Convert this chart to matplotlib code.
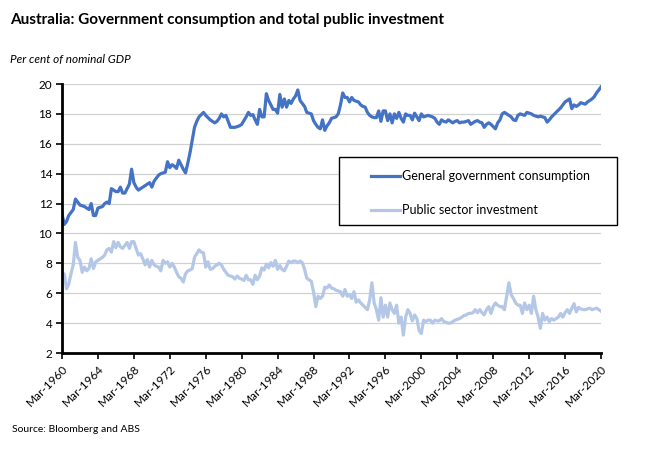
import matplotlib
matplotlib.use("Agg")
import matplotlib.pyplot as plt
from matplotlib.patches import Rectangle

plt.rcParams['font.family'] = ['Lato', 'DejaVu Sans']

# quarterly, Mar-1960 .. Mar-2020 (per cent of nominal GDP)
consumption = [
    11.3, 10.6, 10.8, 11.2,  11.4, 11.6, 12.3, 12.1,  11.9, 11.85, 11.8, 11.7,
    11.6, 12.0, 11.2, 11.2,  11.7, 11.75, 11.8, 12.0,  12.1, 12.0, 13.0, 12.9,
    12.8, 12.8, 13.1, 12.7,  12.7, 13.0, 13.3, 14.3,  13.4, 13.1, 12.9, 13.0,
    13.1, 13.2, 13.3, 13.4,  13.1, 13.5, 13.7, 13.9,  14.0, 14.05, 14.1, 14.8,
    14.4, 14.6, 14.5, 14.35,  14.9, 14.6, 14.3, 14.05,  14.7, 15.4, 16.25, 17.1,
    17.5, 17.8, 17.95, 18.1,  17.9, 17.75, 17.6, 17.5,  17.4, 17.5, 17.7, 18.0,
    17.8, 17.9, 17.5, 17.1,  17.1, 17.1, 17.15, 17.2,  17.3, 17.55, 17.8, 18.1,
    17.9, 17.95, 17.6, 17.3,  18.3, 17.8, 17.8, 19.35,  18.9, 18.6, 18.3, 18.3,
    18.05, 19.3, 18.45, 19.0,  18.45, 18.9, 18.7, 19.0,  19.2, 19.6, 18.9, 18.7,
    18.5, 18.1, 18.05, 18.0,  17.55, 17.3, 17.1, 17.0,  17.6, 16.9, 17.2, 17.4,
    17.7, 17.75, 17.8, 18.0,  18.6, 19.4, 19.1, 19.1,  18.8, 19.1, 18.9, 18.85,
    18.8, 18.6, 18.5, 18.45,  18.1, 17.9, 17.8, 17.75,  17.75, 18.2, 17.5, 18.2,
    18.2, 17.55, 18.0, 17.4,  18.0, 17.7, 18.1, 17.7,  17.45, 18.0, 17.9, 17.9,
    17.6, 18.05, 17.8, 17.55,  18.0, 17.8, 17.85, 17.9,  17.85, 17.8, 17.7, 17.45,
    17.3, 17.6, 17.5, 17.45,  17.6, 17.5, 17.4, 17.5,  17.55, 17.4, 17.45, 17.45,
    17.5, 17.55, 17.3, 17.4,  17.5, 17.55, 17.45, 17.4,  17.1, 17.3, 17.4, 17.3,
    17.15, 17.0, 17.4, 17.6,  18.0, 18.1, 18.0, 17.9,  17.8, 17.6, 17.55, 17.9,
    18.0, 17.95, 17.9, 18.1,  18.05, 18.0, 17.9, 17.85,  17.8, 17.85, 17.8, 17.75,
    17.45, 17.6, 17.8, 17.95,  18.1, 18.25, 18.4, 18.6,  18.8, 18.9, 19.0, 18.35,
    18.6, 18.5, 18.6, 18.75,  18.7, 18.65, 18.8, 18.9,  19.0, 19.15, 19.4, 19.6,
    19.8,
]

investment = [
    7.3, 7.3, 6.3, 6.6,  7.3, 7.9, 9.4, 8.4,  8.2, 7.4, 7.75, 7.5,
    7.65, 8.3, 7.65, 8.1,  8.2, 8.3, 8.4, 8.55,  8.9, 9.0, 8.75, 9.45,
    9.05, 9.4, 9.1, 9.0,  9.2, 9.4, 9.0, 9.45,  9.45, 9.0, 8.55, 8.65,
    8.3, 7.9, 8.25, 7.75,  8.2, 7.9, 7.8, 7.75,  7.5, 8.2, 8.0, 8.1,
    7.75, 8.0, 7.75, 7.4,  7.1, 7.0, 6.75, 7.3,  7.5, 7.55, 7.65, 8.4,
    8.65, 8.9, 8.75, 8.7,  7.75, 8.1, 7.6, 7.65,  7.8, 7.9, 8.0, 7.9,
    7.6, 7.4, 7.2, 7.15,  7.1, 6.95, 7.15, 7.0,  6.95, 6.85, 7.2, 6.9,
    6.9, 6.6, 7.2, 6.9,  7.15, 7.7, 7.55, 7.95,  7.7, 8.05, 7.8, 8.2,
    7.6, 7.85, 7.6, 7.5,  7.8, 8.15, 8.05, 8.15,  8.15, 8.05, 8.15, 8.05,
    7.6, 7.0, 6.9, 6.8,  6.1, 5.1, 5.8, 5.65,  5.8, 6.4, 6.35, 6.55,
    6.35, 6.3, 6.2, 6.15,  6.1, 5.8, 6.25, 5.8,  5.9, 5.65, 6.1, 5.4,
    5.55, 5.35, 5.2, 5.05,  4.9, 5.55, 6.7, 5.35,  4.9, 4.2, 5.7, 4.4,
    5.2, 4.4, 5.35, 4.9,  4.65, 5.2, 4.0, 4.4,  3.2, 4.4, 4.9, 4.65,
    4.15, 4.55, 4.3, 3.5,  3.3, 4.2, 4.1, 4.2,  4.2, 4.0, 4.2, 4.15,
    4.15, 4.3, 4.1, 4.05,  4.0, 4.0, 4.1, 4.2,  4.25, 4.3, 4.4, 4.5,
    4.55, 4.65, 4.65, 4.7,  4.9, 4.7, 4.9, 4.7,  4.55, 4.9, 5.1, 4.65,
    5.1, 5.35, 5.2, 5.1,  5.1, 4.9, 5.8, 6.7,  5.9, 5.65, 5.35, 5.2,
    5.2, 4.65, 5.35, 4.9,  5.2, 4.65, 5.8, 4.9,  4.4, 3.65, 4.65, 4.2,
    4.4, 4.1, 4.3, 4.2,  4.3, 4.4, 4.65, 4.4,  4.7, 4.9, 4.65, 5.0,
    5.3, 4.75, 5.05, 4.95,  4.9, 4.9, 4.95, 5.0,  4.9, 4.95, 5.0, 4.9,
    4.8,
]

months = ["Mar", "Jun", "Sep", "Dec"]
first_year = 1960
quarter_labels = [f"{months[i % 4]}-{first_year + i // 4}" for i in range(len(consumption))]
tick_step = 16  # every 4 years
yticks = [2, 4, 6, 8, 10, 12, 14, 16, 18, 20]

dark_blue = "#4472C4"
light_blue = "#B4C7E7"

fig = plt.figure(figsize=(6.5, 4.55), dpi=100)
ax = fig.add_axes([62 / 650, 1 - 353 / 455, (601 - 62) / 650, (353 - 84) / 455])

x = list(range(len(consumption)))
ax.plot(x, investment, color=light_blue, lw=2.3, solid_joinstyle="round")
ax.plot(x, consumption, color=dark_blue, lw=2.3, solid_joinstyle="round")

ax.set_xlim(0, len(consumption) - 1)
ax.set_ylim(2, 20)
ax.set_yticks(yticks)
ax.set_yticklabels([str(v) for v in yticks], fontsize=8.5)
ticks = x[::tick_step]
ax.set_xticks(ticks)
ax.set_xticklabels([quarter_labels[i] for i in ticks], rotation=45, ha="right",
                   rotation_mode="anchor", fontsize=8.5)
ax.grid(axis="y", color="#d0d0d0", lw=0.9)
ax.set_axisbelow(True)
for side in ["top", "right"]:
    ax.spines[side].set_visible(False)
for side in ["left", "bottom"]:
    ax.spines[side].set_linewidth(2)
    ax.spines[side].set_color("black")
ax.tick_params(axis="both", direction="out", length=4, width=1.2, color="black", pad=3)

# legend box
fig.patches.append(Rectangle((339 / 650, 1 - 225 / 455), (617 - 339) / 650, (225 - 157) / 455,
                             transform=fig.transFigure, facecolor="white", edgecolor="black",
                             lw=1, zorder=3))
h1, = ax.plot([], [], color=dark_blue, lw=2.3)
h2, = ax.plot([], [], color=light_blue, lw=2.3)
leg = fig.legend([h1, h2], ["General government consumption", "Public sector investment"],
                 loc="upper left", bbox_to_anchor=(360 / 650, 1 - 159 / 455), frameon=False,
                 fontsize=9, handlelength=2.3, handletextpad=0.15, labelspacing=1.75)
leg.set_zorder(4)

fig.text(10 / 650, 1 - 20 / 455, "Australia: Government consumption and total public investment",
         fontsize=11, fontweight="bold", va="center", ha="left")
fig.text(10 / 650, 1 - 60 / 455, "Per cent of nominal GDP", fontsize=8.5, style="italic",
         va="center", ha="left")
fig.text(12 / 650, 1 - 429 / 455, "Source: Bloomberg and ABS", fontsize=7.5, va="center", ha="left")

fig.savefig("out.png", dpi=100)
